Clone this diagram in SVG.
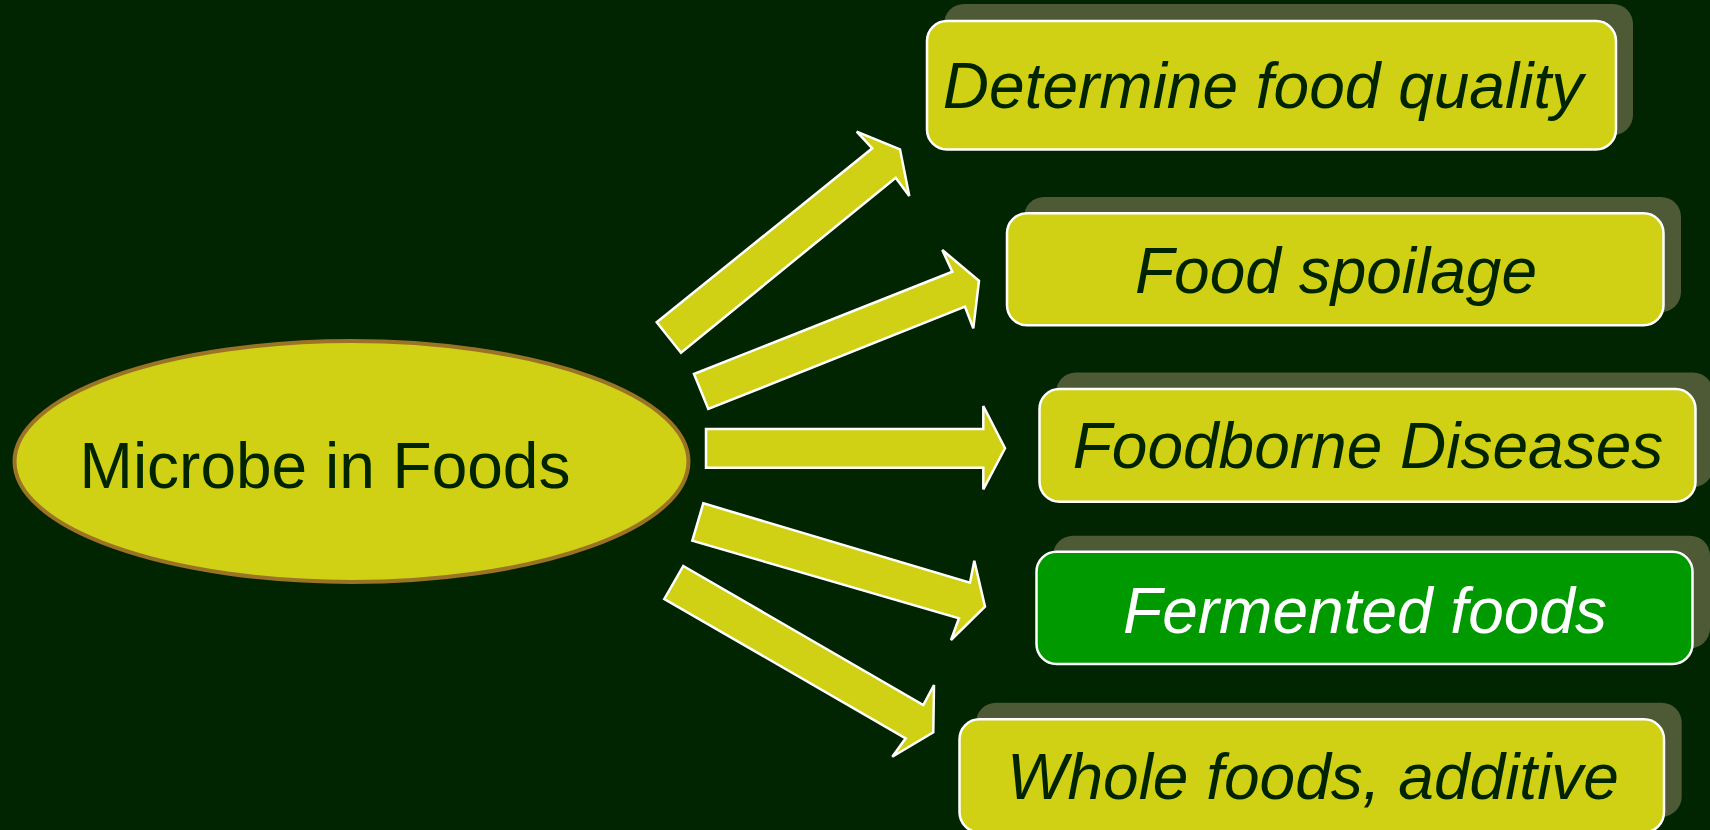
<svg xmlns="http://www.w3.org/2000/svg" width="1710" height="830" viewBox="0 0 1710 830">
<style>
.shadow{fill:#4d5a35}
.box{fill:#d0d015;stroke:#ffffff;stroke-width:2.5}
.box.green{fill:#009a00}
.lbl{font-family:"Liberation Sans",Arial,sans-serif;font-size:64px;font-style:italic;fill:#002400;text-anchor:middle}
.lbl.white{fill:#ffffff}
.arrow{fill:#d0d015;stroke:#ffffff;stroke-width:2.5;stroke-linejoin:miter}
</style>
<rect x="0" y="0" width="1710" height="830" fill="#012401"/>
<g id="connectors">
<polygon class="arrow" points="656.7,322.3 872.3,148.3 856.7,131.7 900,149.3 909.3,196 895.7,177.7 681,352.7"/>
<polygon class="arrow" points="694,374 952.3,271.7 942.3,250 979,280.7 973.3,328.3 965,306.7 708.3,409"/>
<polygon class="arrow" points="706,429 983.3,429 983.3,406 1005,448.3 983.3,489.3 983.3,467.7 706,467.7"/>
<polygon class="arrow" points="703.3,503.3 970,582.7 974.3,560.7 985,606.7 951,640 959,618.3 692.3,540.7"/>
<polygon class="arrow" points="683.3,566 923.3,705 934,685 933.3,732.3 892.3,756.7 905.7,738.3 664.3,599"/>
</g>
<g id="node-center">
<ellipse cx="351.5" cy="461.5" rx="337" ry="120.5" fill="#d0d015" stroke="#9a7326" stroke-width="4"/>
<text x="325" y="487.5" font-family="'Liberation Sans',Arial,sans-serif" font-size="64" fill="#002400" text-anchor="middle">Microbe in Foods</text>
</g>
<g id="node-quality">
<rect class="shadow" x="944" y="4" width="689" height="131" rx="20"/>
<rect class="box" x="927" y="21" width="689" height="128.5" rx="20"/>
<text class="lbl" x="1263" y="108">Determine food quality</text>
</g>
<g id="node-spoilage">
<rect class="shadow" x="1024" y="197" width="657" height="115" rx="20"/>
<rect class="box" x="1007" y="213.3" width="656.5" height="112" rx="20"/>
<text class="lbl" x="1336" y="293">Food spoilage</text>
</g>
<g id="node-diseases">
<rect class="shadow" x="1056" y="372.5" width="657" height="114.5" rx="20"/>
<rect class="box" x="1039.5" y="389" width="656" height="112.7" rx="20"/>
<text class="lbl" x="1368" y="468">Foodborne Diseases</text>
</g>
<g id="node-fermented">
<rect class="shadow" x="1053" y="535.7" width="657" height="112.6" rx="20"/>
<rect class="box green" x="1036.5" y="551.7" width="656" height="112.3" rx="20"/>
<text class="lbl white" x="1365" y="633">Fermented foods</text>
</g>
<g id="node-whole">
<rect class="shadow" x="976" y="702.7" width="705.7" height="114" rx="20"/>
<rect class="box" x="959.5" y="719.3" width="704.5" height="113" rx="20"/>
<text class="lbl" x="1313" y="799">Whole foods, additive</text>
</g>
</svg>
